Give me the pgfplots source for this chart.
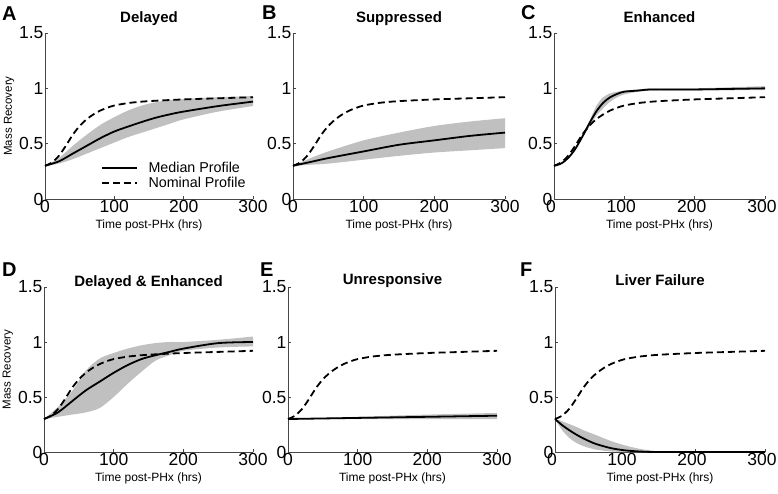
\documentclass[border=0pt]{standalone}
\usepackage{fontspec}
\setmainfont{Liberation Sans}
\usepackage{pgfplots}
\pgfplotsset{compat=1.18}
\usepackage{pgfplotstable}
\usepgfplotslibrary{fillbetween}
\definecolor{band}{RGB}{192,192,192}
\definecolor{axgray}{RGB}{70,70,70}

\pgfplotstableread{
t v
0 0.30
10 0.33
20 0.39
30 0.48
40 0.58
50 0.66
60 0.72
70 0.765
80 0.80
90 0.825
100 0.845
120 0.867
140 0.88
160 0.888
200 0.90
250 0.91
300 0.92
}\nominal

\pgfplotstableread{
t med lo hi
0 0.30 0.30 0.30
20 0.34 0.32 0.37
40 0.41 0.36 0.48
60 0.48 0.41 0.58
80 0.55 0.46 0.67
100 0.61 0.51 0.74
120 0.655 0.56 0.80
140 0.697 0.60 0.845
160 0.735 0.64 0.875
180 0.765 0.68 0.895
200 0.79 0.72 0.905
250 0.84 0.79 0.92
300 0.88 0.84 0.93
}\dA

\pgfplotstableread{
t med lo hi
0 0.30 0.30 0.30
25 0.335 0.31 0.37
50 0.37 0.32 0.43
100 0.43 0.355 0.53
150 0.49 0.39 0.60
200 0.53 0.42 0.66
250 0.57 0.44 0.70
300 0.60 0.46 0.73
}\dB

\pgfplotstableread{
t med lo hi
0 0.30 0.30 0.30
10 0.32 0.32 0.32
20 0.37 0.37 0.37
30 0.45 0.45 0.45
40 0.56 0.55 0.57
50 0.68 0.65 0.70
60 0.79 0.75 0.84
70 0.87 0.82 0.92
80 0.92 0.88 0.955
90 0.95 0.92 0.97
100 0.97 0.945 0.98
120 0.98 0.97 0.99
140 0.99 0.98 1.00
200 0.99 0.98 1.00
300 1.00 0.985 1.02
}\dC

\pgfplotstableread{
t med lo hi
0 0.30 0.30 0.30
20 0.36 0.32 0.41
40 0.46 0.34 0.55
60 0.56 0.36 0.74
80 0.64 0.40 0.85
100 0.72 0.50 0.90
120 0.79 0.62 0.94
140 0.845 0.73 0.97
160 0.88 0.83 0.99
180 0.91 0.88 1.00
200 0.94 0.92 1.00
250 0.99 0.95 1.02
300 1.00 0.96 1.05
}\dD

\pgfplotstableread{
t med lo hi
0 0.30 0.30 0.30
100 0.31 0.30 0.32
200 0.32 0.30 0.34
300 0.33 0.30 0.355
}\dE

\pgfplotstableread{
t med lo hi
0 0.30 0.30 0.30
10 0.245 0.20 0.28
20 0.20 0.13 0.255
30 0.16 0.085 0.23
40 0.125 0.055 0.20
50 0.095 0.035 0.175
60 0.07 0.02 0.15
80 0.035 0.005 0.10
100 0.015 0.0 0.06
120 0.005 0.0 0.03
140 0.0 0.0 0.012
165 0.0 0.0 0.0
300 0.0 0.0 0.0
}\dF

\pgfplotsset{
  panel/.style={
    scale only axis,
    anchor=south west,
    xmin=0, xmax=300, ymin=0, ymax=1.5,
    xtick={0,100,200,300}, ytick={0,0.5,1,1.5},
    axis lines=left,
    axis line style={-, axgray, line width=0.8pt},
    tick style={axgray, line width=0.6pt},
    tick align=inside,
    major tick length=3pt,
    /pgf/number format/assume math mode=true,
    ticklabel style={font=\fontsize{17.5}{17.5}\selectfont},
    xticklabel style={yshift=2pt},
    yticklabel style={xshift=2pt},
    xlabel={Time post-PHx (hrs)},
    xlabel style={font=\fontsize{12}{12}\selectfont, at={(axis description cs:0.5,-0.157)}, anchor=center},
    ylabel style={font=\fontsize{11.5}{11.5}\selectfont, at={(axis description cs:-0.173,0.5)}, anchor=center},
    clip=false,
  },
  rightpanel/.style={xticklabel style={xshift=-3pt}},
  medianline/.style={black, line width=1.8pt, smooth},
  nomline/.style={black, line width=1.8pt, dash pattern=on 7pt off 4pt, smooth},
}

\newcommand{\panelplots}[1]{%
  \addplot[name path=up, draw=none, forget plot, smooth] table[x=t, y=hi] {#1};
  \addplot[name path=lo, draw=none, forget plot, smooth] table[x=t, y=lo] {#1};
  \addplot[band, draw=none, forget plot] fill between[of=up and lo];
  \addplot[medianline] table[x=t, y=med] {#1};
  \addplot[nomline] table[x=t, y=v] {\nominal};
}

\newcommand{\ttl}[2]{\node[font=\fontsize{15}{15}\selectfont\bfseries, anchor=base, yshift=#2] at (axis description cs:0.5,1) {#1};}

\begin{document}
\begin{tikzpicture}

% A
\begin{axis}[panel, at={(45pt,-199pt)}, width=208pt, height=166pt,
  ylabel={Mass Recovery},
  legend style={draw=none, fill=none, at={(axis description cs:0.255,0.245)}, anchor=north west,
    font=\fontsize{14.3}{14.3}\selectfont, row sep=0pt, nodes={inner sep=1.5pt},
    /tikz/every odd column/.append style={column sep=9pt}},
  legend cell align=left,
  legend image code/.code={\draw[#1] (0pt,0pt) -- (35pt,0pt);}]
\panelplots{\dA}
\legend{Median Profile, Nominal Profile}
\ttl{Delayed}{11pt}
\end{axis}

% B
\begin{axis}[panel, at={(293pt,-199pt)}, width=212pt, height=166pt]
\panelplots{\dB}
\ttl{Suppressed}{11pt}
\end{axis}

% C
\begin{axis}[panel, rightpanel, at={(554pt,-199pt)}, width=211pt, height=166pt]
\panelplots{\dC}
\ttl{Enhanced}{11pt}
\end{axis}

% D
\begin{axis}[panel, at={(44pt,-452pt)}, width=209pt, height=165pt, ylabel={Mass Recovery}]
\panelplots{\dD}
\ttl{Delayed \& Enhanced}{1pt}
\end{axis}

% E
\begin{axis}[panel, at={(288pt,-452pt)}, width=209pt, height=165pt]
\panelplots{\dE}
\ttl{Unresponsive}{3pt}
\end{axis}

% F
\begin{axis}[panel, rightpanel, at={(555pt,-452pt)}, width=210pt, height=165pt]
\panelplots{\dF}
\ttl{Liver Failure}{2pt}
\end{axis}

\begin{scope}[every node/.style={font=\fontsize{20}{20}\selectfont\bfseries, anchor=base west, inner sep=0pt}]
\node at (2pt,-20pt) {A};
\node at (262pt,-19pt) {B};
\node at (521pt,-19pt) {C};
\node at (2pt,-276pt) {D};
\node at (260pt,-276pt) {E};
\node at (520pt,-276pt) {F};
\end{scope}

\pgfresetboundingbox
\path[use as bounding box] (0pt,0pt) rectangle (778pt,-493pt);
\end{tikzpicture}
\end{document}
